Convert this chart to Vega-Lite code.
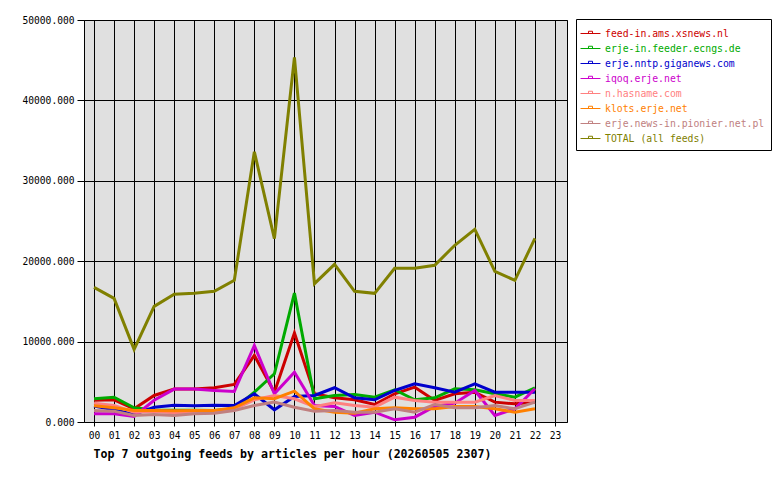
{
  "$schema": "https://vega.github.io/schema/vega-lite/v6.json",
  "autosize": "none",
  "padding": {"left": 84, "top": 20, "right": 213, "bottom": 58},
  "width": 483,
  "height": 402,
  "background": "white",
  "data": {
    "values": [
      {"hour": 0, "feed": "feed-in.ams.xsnews.nl", "articles": 2700},
      {"hour": 1, "feed": "feed-in.ams.xsnews.nl", "articles": 2760},
      {"hour": 2, "feed": "feed-in.ams.xsnews.nl", "articles": 1640},
      {"hour": 3, "feed": "feed-in.ams.xsnews.nl", "articles": 3300},
      {"hour": 4, "feed": "feed-in.ams.xsnews.nl", "articles": 4090},
      {"hour": 5, "feed": "feed-in.ams.xsnews.nl", "articles": 4090},
      {"hour": 6, "feed": "feed-in.ams.xsnews.nl", "articles": 4260},
      {"hour": 7, "feed": "feed-in.ams.xsnews.nl", "articles": 4670},
      {"hour": 8, "feed": "feed-in.ams.xsnews.nl", "articles": 8280},
      {"hour": 9, "feed": "feed-in.ams.xsnews.nl", "articles": 3710},
      {"hour": 10, "feed": "feed-in.ams.xsnews.nl", "articles": 11060},
      {"hour": 11, "feed": "feed-in.ams.xsnews.nl", "articles": 3510},
      {"hour": 12, "feed": "feed-in.ams.xsnews.nl", "articles": 3010},
      {"hour": 13, "feed": "feed-in.ams.xsnews.nl", "articles": 2760},
      {"hour": 14, "feed": "feed-in.ams.xsnews.nl", "articles": 2180},
      {"hour": 15, "feed": "feed-in.ams.xsnews.nl", "articles": 3510},
      {"hour": 16, "feed": "feed-in.ams.xsnews.nl", "articles": 4330},
      {"hour": 17, "feed": "feed-in.ams.xsnews.nl", "articles": 2680},
      {"hour": 18, "feed": "feed-in.ams.xsnews.nl", "articles": 3510},
      {"hour": 19, "feed": "feed-in.ams.xsnews.nl", "articles": 3710},
      {"hour": 20, "feed": "feed-in.ams.xsnews.nl", "articles": 2470},
      {"hour": 21, "feed": "feed-in.ams.xsnews.nl", "articles": 2260},
      {"hour": 22, "feed": "feed-in.ams.xsnews.nl", "articles": 2470},

      {"hour": 0, "feed": "erje-in.feeder.ecngs.de", "articles": 2890},
      {"hour": 1, "feed": "erje-in.feeder.ecngs.de", "articles": 3090},
      {"hour": 2, "feed": "erje-in.feeder.ecngs.de", "articles": 1770},
      {"hour": 3, "feed": "erje-in.feeder.ecngs.de", "articles": 1500},
      {"hour": 4, "feed": "erje-in.feeder.ecngs.de", "articles": 1450},
      {"hour": 5, "feed": "erje-in.feeder.ecngs.de", "articles": 1450},
      {"hour": 6, "feed": "erje-in.feeder.ecngs.de", "articles": 1430},
      {"hour": 7, "feed": "erje-in.feeder.ecngs.de", "articles": 1650},
      {"hour": 8, "feed": "erje-in.feeder.ecngs.de", "articles": 3710},
      {"hour": 9, "feed": "erje-in.feeder.ecngs.de", "articles": 6000},
      {"hour": 10, "feed": "erje-in.feeder.ecngs.de", "articles": 16040},
      {"hour": 11, "feed": "erje-in.feeder.ecngs.de", "articles": 2890},
      {"hour": 12, "feed": "erje-in.feeder.ecngs.de", "articles": 3300},
      {"hour": 13, "feed": "erje-in.feeder.ecngs.de", "articles": 3420},
      {"hour": 14, "feed": "erje-in.feeder.ecngs.de", "articles": 3090},
      {"hour": 15, "feed": "erje-in.feeder.ecngs.de", "articles": 4010},
      {"hour": 16, "feed": "erje-in.feeder.ecngs.de", "articles": 2760},
      {"hour": 17, "feed": "erje-in.feeder.ecngs.de", "articles": 3010},
      {"hour": 18, "feed": "erje-in.feeder.ecngs.de", "articles": 4130},
      {"hour": 19, "feed": "erje-in.feeder.ecngs.de", "articles": 4010},
      {"hour": 20, "feed": "erje-in.feeder.ecngs.de", "articles": 3510},
      {"hour": 21, "feed": "erje-in.feeder.ecngs.de", "articles": 3090},
      {"hour": 22, "feed": "erje-in.feeder.ecngs.de", "articles": 4260},

      {"hour": 0, "feed": "erje.nntp.giganews.com", "articles": 2000},
      {"hour": 1, "feed": "erje.nntp.giganews.com", "articles": 1520},
      {"hour": 2, "feed": "erje.nntp.giganews.com", "articles": 930},
      {"hour": 3, "feed": "erje.nntp.giganews.com", "articles": 1840},
      {"hour": 4, "feed": "erje.nntp.giganews.com", "articles": 2090},
      {"hour": 5, "feed": "erje.nntp.giganews.com", "articles": 2010},
      {"hour": 6, "feed": "erje.nntp.giganews.com", "articles": 2090},
      {"hour": 7, "feed": "erje.nntp.giganews.com", "articles": 2050},
      {"hour": 8, "feed": "erje.nntp.giganews.com", "articles": 3510},
      {"hour": 9, "feed": "erje.nntp.giganews.com", "articles": 1520},
      {"hour": 10, "feed": "erje.nntp.giganews.com", "articles": 3170},
      {"hour": 11, "feed": "erje.nntp.giganews.com", "articles": 3300},
      {"hour": 12, "feed": "erje.nntp.giganews.com", "articles": 4260},
      {"hour": 13, "feed": "erje.nntp.giganews.com", "articles": 3010},
      {"hour": 14, "feed": "erje.nntp.giganews.com", "articles": 2760},
      {"hour": 15, "feed": "erje.nntp.giganews.com", "articles": 3920},
      {"hour": 16, "feed": "erje.nntp.giganews.com", "articles": 4750},
      {"hour": 17, "feed": "erje.nntp.giganews.com", "articles": 4260},
      {"hour": 18, "feed": "erje.nntp.giganews.com", "articles": 3710},
      {"hour": 19, "feed": "erje.nntp.giganews.com", "articles": 4750},
      {"hour": 20, "feed": "erje.nntp.giganews.com", "articles": 3710},
      {"hour": 21, "feed": "erje.nntp.giganews.com", "articles": 3710},
      {"hour": 22, "feed": "erje.nntp.giganews.com", "articles": 3710},

      {"hour": 0, "feed": "iqoq.erje.net", "articles": 1020},
      {"hour": 1, "feed": "iqoq.erje.net", "articles": 1020},
      {"hour": 2, "feed": "iqoq.erje.net", "articles": 690},
      {"hour": 3, "feed": "iqoq.erje.net", "articles": 2700},
      {"hour": 4, "feed": "iqoq.erje.net", "articles": 4090},
      {"hour": 5, "feed": "iqoq.erje.net", "articles": 4090},
      {"hour": 6, "feed": "iqoq.erje.net", "articles": 3920},
      {"hour": 7, "feed": "iqoq.erje.net", "articles": 3800},
      {"hour": 8, "feed": "iqoq.erje.net", "articles": 9520},
      {"hour": 9, "feed": "iqoq.erje.net", "articles": 3510},
      {"hour": 10, "feed": "iqoq.erje.net", "articles": 6200},
      {"hour": 11, "feed": "iqoq.erje.net", "articles": 2050},
      {"hour": 12, "feed": "iqoq.erje.net", "articles": 1930},
      {"hour": 13, "feed": "iqoq.erje.net", "articles": 810},
      {"hour": 14, "feed": "iqoq.erje.net", "articles": 1220},
      {"hour": 15, "feed": "iqoq.erje.net", "articles": 270},
      {"hour": 16, "feed": "iqoq.erje.net", "articles": 600},
      {"hour": 17, "feed": "iqoq.erje.net", "articles": 1930},
      {"hour": 18, "feed": "iqoq.erje.net", "articles": 2340},
      {"hour": 19, "feed": "iqoq.erje.net", "articles": 3920},
      {"hour": 20, "feed": "iqoq.erje.net", "articles": 810},
      {"hour": 21, "feed": "iqoq.erje.net", "articles": 1640},
      {"hour": 22, "feed": "iqoq.erje.net", "articles": 4130},

      {"hour": 0, "feed": "n.hasname.com", "articles": 2340},
      {"hour": 1, "feed": "n.hasname.com", "articles": 2050},
      {"hour": 2, "feed": "n.hasname.com", "articles": 1220},
      {"hour": 3, "feed": "n.hasname.com", "articles": 1310},
      {"hour": 4, "feed": "n.hasname.com", "articles": 1140},
      {"hour": 5, "feed": "n.hasname.com", "articles": 1220},
      {"hour": 6, "feed": "n.hasname.com", "articles": 1300},
      {"hour": 7, "feed": "n.hasname.com", "articles": 1600},
      {"hour": 8, "feed": "n.hasname.com", "articles": 2760},
      {"hour": 9, "feed": "n.hasname.com", "articles": 3300},
      {"hour": 10, "feed": "n.hasname.com", "articles": 2890},
      {"hour": 11, "feed": "n.hasname.com", "articles": 1900},
      {"hour": 12, "feed": "n.hasname.com", "articles": 2390},
      {"hour": 13, "feed": "n.hasname.com", "articles": 2050},
      {"hour": 14, "feed": "n.hasname.com", "articles": 1840},
      {"hour": 15, "feed": "n.hasname.com", "articles": 3090},
      {"hour": 16, "feed": "n.hasname.com", "articles": 2680},
      {"hour": 17, "feed": "n.hasname.com", "articles": 2470},
      {"hour": 18, "feed": "n.hasname.com", "articles": 2470},
      {"hour": 19, "feed": "n.hasname.com", "articles": 2470},
      {"hour": 20, "feed": "n.hasname.com", "articles": 3300},
      {"hour": 21, "feed": "n.hasname.com", "articles": 2680},
      {"hour": 22, "feed": "n.hasname.com", "articles": 2680},

      {"hour": 0, "feed": "klots.erje.net", "articles": 2010},
      {"hour": 1, "feed": "klots.erje.net", "articles": 1770},
      {"hour": 2, "feed": "klots.erje.net", "articles": 1430},
      {"hour": 3, "feed": "klots.erje.net", "articles": 1430},
      {"hour": 4, "feed": "klots.erje.net", "articles": 1390},
      {"hour": 5, "feed": "klots.erje.net", "articles": 1430},
      {"hour": 6, "feed": "klots.erje.net", "articles": 1430},
      {"hour": 7, "feed": "klots.erje.net", "articles": 1770},
      {"hour": 8, "feed": "klots.erje.net", "articles": 3010},
      {"hour": 9, "feed": "klots.erje.net", "articles": 2890},
      {"hour": 10, "feed": "klots.erje.net", "articles": 3840},
      {"hour": 11, "feed": "klots.erje.net", "articles": 1640},
      {"hour": 12, "feed": "klots.erje.net", "articles": 1220},
      {"hour": 13, "feed": "klots.erje.net", "articles": 1100},
      {"hour": 14, "feed": "klots.erje.net", "articles": 1640},
      {"hour": 15, "feed": "klots.erje.net", "articles": 1770},
      {"hour": 16, "feed": "klots.erje.net", "articles": 1640},
      {"hour": 17, "feed": "klots.erje.net", "articles": 1640},
      {"hour": 18, "feed": "klots.erje.net", "articles": 1930},
      {"hour": 19, "feed": "klots.erje.net", "articles": 1930},
      {"hour": 20, "feed": "klots.erje.net", "articles": 1640},
      {"hour": 21, "feed": "klots.erje.net", "articles": 1220},
      {"hour": 22, "feed": "klots.erje.net", "articles": 1640},

      {"hour": 0, "feed": "erje.news-in.pionier.net.pl", "articles": 1430},
      {"hour": 1, "feed": "erje.news-in.pionier.net.pl", "articles": 1350},
      {"hour": 2, "feed": "erje.news-in.pionier.net.pl", "articles": 810},
      {"hour": 3, "feed": "erje.news-in.pionier.net.pl", "articles": 930},
      {"hour": 4, "feed": "erje.news-in.pionier.net.pl", "articles": 810},
      {"hour": 5, "feed": "erje.news-in.pionier.net.pl", "articles": 1020},
      {"hour": 6, "feed": "erje.news-in.pionier.net.pl", "articles": 1100},
      {"hour": 7, "feed": "erje.news-in.pionier.net.pl", "articles": 1430},
      {"hour": 8, "feed": "erje.news-in.pionier.net.pl", "articles": 2050},
      {"hour": 9, "feed": "erje.news-in.pionier.net.pl", "articles": 2470},
      {"hour": 10, "feed": "erje.news-in.pionier.net.pl", "articles": 1840},
      {"hour": 11, "feed": "erje.news-in.pionier.net.pl", "articles": 1350},
      {"hour": 12, "feed": "erje.news-in.pionier.net.pl", "articles": 1430},
      {"hour": 13, "feed": "erje.news-in.pionier.net.pl", "articles": 1220},
      {"hour": 14, "feed": "erje.news-in.pionier.net.pl", "articles": 1220},
      {"hour": 15, "feed": "erje.news-in.pionier.net.pl", "articles": 1640},
      {"hour": 16, "feed": "erje.news-in.pionier.net.pl", "articles": 1220},
      {"hour": 17, "feed": "erje.news-in.pionier.net.pl", "articles": 2180},
      {"hour": 18, "feed": "erje.news-in.pionier.net.pl", "articles": 1770},
      {"hour": 19, "feed": "erje.news-in.pionier.net.pl", "articles": 1770},
      {"hour": 20, "feed": "erje.news-in.pionier.net.pl", "articles": 2050},
      {"hour": 21, "feed": "erje.news-in.pionier.net.pl", "articles": 1640},
      {"hour": 22, "feed": "erje.news-in.pionier.net.pl", "articles": 2470},

      {"hour": 0, "feed": "TOTAL (all feeds)", "articles": 16750},
      {"hour": 1, "feed": "TOTAL (all feeds)", "articles": 15380},
      {"hour": 2, "feed": "TOTAL (all feeds)", "articles": 9030},
      {"hour": 3, "feed": "TOTAL (all feeds)", "articles": 14380},
      {"hour": 4, "feed": "TOTAL (all feeds)", "articles": 15880},
      {"hour": 5, "feed": "TOTAL (all feeds)", "articles": 16000},
      {"hour": 6, "feed": "TOTAL (all feeds)", "articles": 16250},
      {"hour": 7, "feed": "TOTAL (all feeds)", "articles": 17620},
      {"hour": 8, "feed": "TOTAL (all feeds)", "articles": 33600},
      {"hour": 9, "feed": "TOTAL (all feeds)", "articles": 22810},
      {"hour": 10, "feed": "TOTAL (all feeds)", "articles": 45350},
      {"hour": 11, "feed": "TOTAL (all feeds)", "articles": 17210},
      {"hour": 12, "feed": "TOTAL (all feeds)", "articles": 19610},
      {"hour": 13, "feed": "TOTAL (all feeds)", "articles": 16250},
      {"hour": 14, "feed": "TOTAL (all feeds)", "articles": 16000},
      {"hour": 15, "feed": "TOTAL (all feeds)", "articles": 19120},
      {"hour": 16, "feed": "TOTAL (all feeds)", "articles": 19120},
      {"hour": 17, "feed": "TOTAL (all feeds)", "articles": 19490},
      {"hour": 18, "feed": "TOTAL (all feeds)", "articles": 21980},
      {"hour": 19, "feed": "TOTAL (all feeds)", "articles": 23970},
      {"hour": 20, "feed": "TOTAL (all feeds)", "articles": 18740},
      {"hour": 21, "feed": "TOTAL (all feeds)", "articles": 17620},
      {"hour": 22, "feed": "TOTAL (all feeds)", "articles": 22850}
    ]
  },
  "mark": {"type": "line", "strokeWidth": 3, "strokeJoin": "miter"},
  "encoding": {
    "x": {
      "field": "hour",
      "type": "quantitative",
      "scale": {"domain": [-0.5, 23.6], "nice": false, "zero": false},
      "axis": {
        "values": [0, 1, 2, 3, 4, 5, 6, 7, 8, 9, 10, 11, 12, 13, 14, 15, 16, 17, 18, 19, 20, 21, 22, 23],
        "format": "02d",
        "title": "Top 7 outgoing feeds by articles per hour (20260505 2307)",
        "titleAnchor": "start",
        "titleAlign": "left",
        "titleBaseline": "alphabetic",
        "titleX": 9,
        "titleY": 35,
        "titleFont": "DejaVu Sans Mono",
        "titleFontSize": 11.6,
        "titleFontWeight": "bold",
        "titleColor": "black",
        "tickSize": 4,
        "labelPadding": 4,
        "labelFlush": false,
        "labelOverlap": false
      }
    },
    "y": {
      "field": "articles",
      "type": "quantitative",
      "scale": {"domain": [0, 50000], "nice": false},
      "axis": {
        "values": [0, 10000, 20000, 30000, 40000, 50000],
        "format": ".3f",
        "title": null,
        "tickSize": 7,
        "labelPadding": 3
      }
    },
    "color": {
      "field": "feed",
      "type": "nominal",
      "sort": null,
      "scale": {
        "domain": ["feed-in.ams.xsnews.nl", "erje-in.feeder.ecngs.de", "erje.nntp.giganews.com", "iqoq.erje.net", "n.hasname.com", "klots.erje.net", "erje.news-in.pionier.net.pl", "TOTAL (all feeds)"],
        "range": ["#cc0000", "#00aa00", "#0000cc", "#cc00cc", "#ff8080", "#ff8000", "#c08080", "#808000"]
      },
      "legend": {
        "title": null,
        "orient": "none",
        "legendX": 492,
        "legendY": -1,
        "padding": 6.5,
        "strokeColor": "black",
        "fillColor": "white",
        "symbolType": "M-1.33,0H1.33M-0.27,0V-0.3H0.27V0",
        "symbolSize": 225,
        "symbolStrokeWidth": 1,
        "rowPadding": 2,
        "labelOffset": 6.5,
        "labelFont": "DejaVu Sans Mono",
        "labelFontSize": 9.8,
        "labelLimit": 300,
        "encode": {
          "labels": {"update": {"fill": {"scale": "color", "field": "value"}}}
        }
      }
    }
  },
  "config": {
    "view": {"stroke": "black", "strokeWidth": 1, "fill": "#e0e0e0"},
    "axis": {
      "grid": true,
      "gridColor": "black",
      "gridOpacity": 1,
      "gridWidth": 1,
      "domain": false,
      "tickColor": "black",
      "tickWidth": 1,
      "labelFont": "DejaVu Sans Mono",
      "labelFontSize": 9.6,
      "labelColor": "black"
    }
  }
}
